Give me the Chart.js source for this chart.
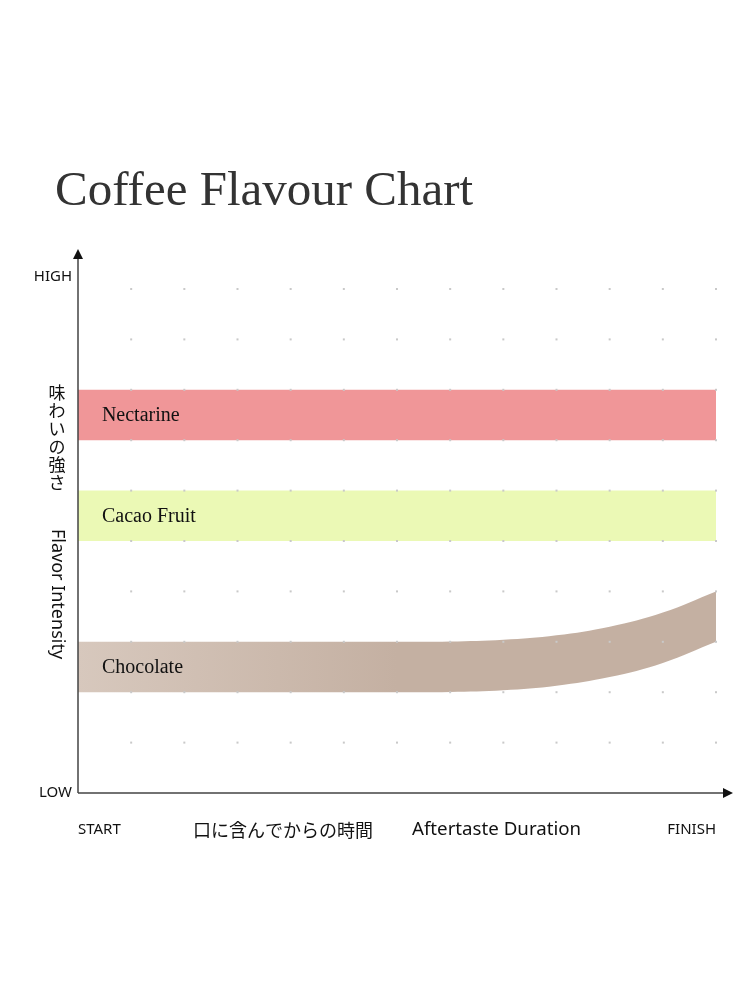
<!DOCTYPE html>
<html>
<head>
<meta charset="utf-8">
<script src="https://cdn.jsdelivr.net/npm/chart.js@4/dist/chart.umd.min.js"></script>
<style>
  body { margin: 0; background: #fff; }
  canvas { display: block; }
</style>
</head>
<body>
<canvas id="flavourChart" width="750" height="1000"></canvas>
<script>
// 横軸：口に含んでからの時間（0 = START, 12 = FINISH）
const timeSteps = [0, 1, 2, 3, 4, 5, 6, 7, 8, 9, 10, 11, 12];
// 縦軸：味わいの強さ（0 = LOW, 10 = HIGH）
const intensitySteps = [1, 2, 3, 4, 5, 6, 7, 8, 9, 10];

const bandNames = ['Nectarine', 'Cacao Fruit', 'Chocolate'];

const nectarineLow  = [7, 7, 7, 7, 7, 7, 7, 7, 7, 7, 7, 7, 7];
const nectarineHigh = [8, 8, 8, 8, 8, 8, 8, 8, 8, 8, 8, 8, 8];
const cacaoLow      = [5, 5, 5, 5, 5, 5, 5, 5, 5, 5, 5, 5, 5];
const cacaoHigh     = [6, 6, 6, 6, 6, 6, 6, 6, 6, 6, 6, 6, 6];
const chocolateLow  = [2, 2, 2, 2, 2, 2, 2, 2.005, 2.04, 2.13, 2.3, 2.58, 3];
const chocolateHigh = [3, 3, 3, 3, 3, 3, 3, 3.005, 3.04, 3.13, 3.3, 3.58, 4];

const axisTexts = {
    high: 'HIGH', low: 'LOW', start: 'START', finish: 'FINISH',
    timeJa: '口に含んでからの時間', timeEn: 'Aftertaste Duration',
    intensityJa: '味わいの強さ', intensityEn: 'Flavor Intensity'
};

function toPoints(values) {
    return timeSteps.map((t, i) => ({ x: t, y: values[i] }));
}

// チョコレートは左から右へ少し濃くなるグラデーション
function chocolateFill(context) {
    const area = context.chart.chartArea;
    if (!area) return '#c4b0a2';
    const g = context.chart.ctx.createLinearGradient(area.left, 0, area.right, 0);
    g.addColorStop(0, '#d7c8bd');
    g.addColorStop(0.5, '#c4b0a2');
    g.addColorStop(1, '#c4b0a2');
    return g;
}

function edge(values) {
    return {
        data: toPoints(values),
        borderColor: 'transparent',
        borderWidth: 0,
        pointRadius: 0,
        fill: false,
        tension: 0.4
    };
}

function band(values, color) {
    return Object.assign(edge(values), { fill: '-1', backgroundColor: color });
}

// 点グリッド・矢印付きの軸・文字を描くプラグイン
const flavourDecor = {
    id: 'flavourDecor',
    afterDatasetsDraw(chart) {
        const { ctx, scales: { x, y } } = chart;
        ctx.save();
        ctx.fillStyle = '#c9c9c9';
        intensitySteps.forEach(v => {
            timeSteps.slice(1).forEach(t => {
                ctx.fillRect(x.getPixelForValue(t) - 1, y.getPixelForValue(v) - 1, 2, 2);
            });
        });
        ctx.restore();
    },
    afterDraw(chart) {
        const { ctx, chartArea: a, scales: { x, y } } = chart;
        ctx.save();

        // 軸
        ctx.strokeStyle = '#444';
        ctx.lineWidth = 1.5;
        ctx.beginPath();
        ctx.moveTo(a.left, a.bottom);
        ctx.lineTo(a.left, a.top - 32);
        ctx.moveTo(a.left, a.bottom);
        ctx.lineTo(a.right + 9, a.bottom);
        ctx.stroke();

        ctx.fillStyle = '#111';
        ctx.beginPath();
        ctx.moveTo(a.left, a.top - 40);
        ctx.lineTo(a.left - 5, a.top - 30);
        ctx.lineTo(a.left + 5, a.top - 30);
        ctx.closePath();
        ctx.fill();
        ctx.beginPath();
        ctx.moveTo(a.right + 17, a.bottom);
        ctx.lineTo(a.right + 7, a.bottom - 5);
        ctx.lineTo(a.right + 7, a.bottom + 5);
        ctx.closePath();
        ctx.fill();

        // 帯のラベル
        const lows = [nectarineLow, cacaoLow, chocolateLow];
        const highs = [nectarineHigh, cacaoHigh, chocolateHigh];
        ctx.font = '20px "Liberation Serif", serif';
        ctx.textBaseline = 'middle';
        ctx.textAlign = 'left';
        bandNames.forEach((name, i) => {
            const mid = (lows[i][0] + highs[i][0]) / 2;
            ctx.fillText(name, x.getPixelForValue(0.45), y.getPixelForValue(mid) + 1);
        });

        // 軸ラベル
        ctx.fillStyle = '#111';
        ctx.font = '15px "Noto Sans", sans-serif';
        ctx.textAlign = 'right';
        ctx.fillText(axisTexts.high, a.left - 6, y.getPixelForValue(10) - 12);
        ctx.fillText(axisTexts.low, a.left - 6, y.getPixelForValue(0));
        const xRow = a.bottom + 37;
        ctx.fillText(axisTexts.finish, x.getPixelForValue(12), xRow);
        ctx.textAlign = 'left';
        ctx.fillText(axisTexts.start, x.getPixelForValue(0), xRow);

        ctx.font = '18px "Noto Sans CJK JP", sans-serif';
        ctx.fillText(axisTexts.timeJa, 193, xRow);
        ctx.font = '18.7px "Noto Sans", sans-serif';
        ctx.fillText(axisTexts.timeEn, 412, xRow);

        // 縦書きの軸タイトル
        ctx.font = '17px "Noto Sans CJK JP", sans-serif';
        ctx.textAlign = 'center';
        Array.from(axisTexts.intensityJa).forEach((ch, i) => {
            ctx.fillText(ch, 57, 393 + i * 18);
        });
        ctx.translate(57, 594);
        ctx.rotate(Math.PI / 2);
        ctx.font = '18px "Noto Sans", sans-serif';
        ctx.fillText(axisTexts.intensityEn, 0, 0);
        ctx.restore();

        // タイトル
        ctx.save();
        ctx.fillStyle = '#333';
        ctx.font = '49px "Liberation Serif", serif';
        ctx.textAlign = 'left';
        ctx.textBaseline = 'alphabetic';
        ctx.fillText('Coffee Flavour Chart', 55, 205);
        ctx.restore();
    }
};

const ctx = document.getElementById('flavourChart').getContext('2d');
new Chart(ctx, {
    type: 'line',
    data: {
        datasets: [
            edge(nectarineLow),
            band(nectarineHigh, '#f09698'),
            edge(cacaoLow),
            band(cacaoHigh, '#ebf9b5'),
            edge(chocolateLow),
            band(chocolateHigh, chocolateFill)
        ]
    },
    options: {
        responsive: false,
        animation: false,
        layout: { padding: { top: 289, left: 78, right: 34, bottom: 207 } },
        scales: {
            x: { type: 'linear', min: 0, max: 12, display: false },
            y: { min: 0, max: 10, display: false }
        },
        plugins: {
            legend: { display: false },
            tooltip: { enabled: false }
        }
    },
    plugins: [flavourDecor]
});
</script>
</body>
</html>
